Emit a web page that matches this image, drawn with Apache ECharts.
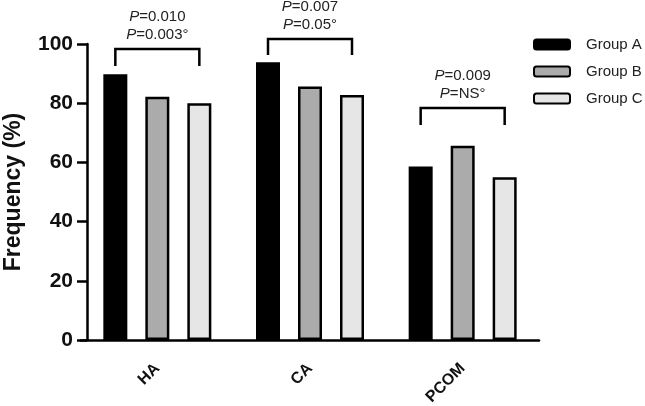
<!DOCTYPE html>
<html>
<head>
<meta charset="utf-8">
<script src="https://cdn.jsdelivr.net/npm/echarts@6/dist/echarts.min.js"></script>
<style>
  html, body { margin: 0; padding: 0; background: #fff; }
  #chart { width: 645px; height: 406px; }
</style>
</head>
<body>
<div id="chart"></div>
<script>
// data
const categories = ['HA', 'CA', 'PCOM']
const groupA = [89.8, 93.8, 58.6]
const groupB = [82.2, 85.6, 65.6]
const groupC = [80.0, 82.8, 55.0]
const yTicks = [0, 20, 40, 60, 80, 100]

// significance brackets (value units) and their p labels
const bracketTop = [98.3, 101.7, 78.4]
const bracketLegEnd = [92.6, 96.3, 72.6]
const pFirst = ['0.010', '0.007', '0.009']
const pSecond = ['0.003°', '0.05°', 'NS°']

const FONT = '"Liberation Sans", Arial, Helvetica, sans-serif'
const BAR_W = 24
const BAR_STEP = 42   // centre-to-centre distance of neighbouring bars

const chart = echarts.init(document.getElementById('chart'))

const barSeries = (name, data, fill) => ({
  name: name,
  type: 'bar',
  data: data,
  barWidth: BAR_W,
  barGap: '75%',
  itemStyle: { color: fill, borderColor: '#000', borderWidth: 2.5 }
})

// bracket from bar A centre to bar C centre with two text lines above
const renderBracket = (params, api) => {
  const idx = api.value(0)
  const top = api.coord([idx, api.value(1)])
  const leg = api.coord([idx, api.value(2)])
  const x1 = top[0] - BAR_STEP
  const x2 = top[0] + BAR_STEP
  const i = params.dataIndex
  return {
    type: 'group',
    children: [
      {
        type: 'polyline',
        shape: { points: [[x1, leg[1]], [x1, top[1]], [x2, top[1]], [x2, leg[1]]] },
        style: { stroke: '#000', lineWidth: 2.5, fill: null }
      },
      {
        type: 'text',
        x: top[0],
        y: top[1] - 5,
        style: {
          text: '{i|P}=' + pFirst[i] + '\n{i|P}=' + pSecond[i],
          align: 'center',
          verticalAlign: 'bottom',
          fontFamily: FONT,
          fontSize: 15,
          lineHeight: 18,
          fill: '#222',
          rich: {
            i: { fontStyle: 'italic', fontFamily: FONT, fontSize: 15, lineHeight: 18, fill: '#222' }
          }
        }
      }
    ]
  }
}

const option = {
  animation: false,
  backgroundColor: '#fff',
  grid: { left: 81, right: 106, top: 44, bottom: 66, outerBoundsMode: 'none' },
  legend: {
    orient: 'vertical',
    left: 528,
    top: 32,
    itemWidth: 36,
    itemHeight: 10,
    itemGap: 12,
    data: ['Group A', 'Group B', 'Group C'],
    textStyle: { fontFamily: FONT, fontSize: 15, color: '#222', padding: [0, 0, 0, 11] }
  },
  xAxis: {
    type: 'category',
    data: categories,
    axisLine: { lineStyle: { color: '#000', width: 2.5 } },
    axisTick: { alignWithLabel: true, length: 9, lineStyle: { color: '#000', width: 2.5 } },
    axisLabel: {
      rotate: 45,
      margin: 26,
      fontFamily: FONT,
      fontSize: 16,
      fontWeight: 'bold',
      color: '#111'
    }
  },
  yAxis: {
    type: 'value',
    min: yTicks[0],
    max: yTicks[yTicks.length - 1],
    interval: 20,
    offset: -6,
    name: 'Frequency (%)',
    nameLocation: 'middle',
    nameGap: 62,
    nameTextStyle: { fontFamily: FONT, fontSize: 23, fontWeight: 'bold', color: '#111' },
    axisLine: { show: true, lineStyle: { color: '#000', width: 2.5 } },
    axisTick: { show: true, length: 10, lineStyle: { color: '#000', width: 2.5 } },
    splitLine: { show: false },
    axisLabel: {
      margin: 14,
      fontFamily: FONT,
      fontSize: 21,
      fontWeight: 'bold',
      color: '#111'
    }
  },
  series: [
    barSeries('Group A', groupA, '#000'),
    barSeries('Group B', groupB, '#ababab'),
    barSeries('Group C', groupC, '#e6e6e6'),
    {
      type: 'custom',
      name: 'brackets',
      clip: false,
      silent: true,
      z: 5,
      renderItem: renderBracket,
      data: categories.map((c, i) => [i, bracketTop[i], bracketLegEnd[i]])
    }
  ]
}

chart.setOption(option)
</script>
</body>
</html>
